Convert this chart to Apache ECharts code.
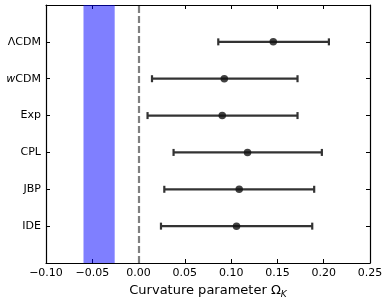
<!DOCTYPE html>
<html><head><meta charset="utf-8">
<script src="https://cdn.jsdelivr.net/npm/echarts@6/dist/echarts.min.js"></script>
<style>html,body{margin:0;padding:0;background:#fff}#c{width:390px;height:300px}</style>
</head><body><div id="c"></div>
<script>
const models = ['ΛCDM', 'wCDM', 'Exp', 'CPL', 'JBP', 'IDE'];
const centers = [0.1455, 0.0926, 0.0904, 0.1177, 0.1087, 0.1058];
const lower = [0.0861, 0.0145, 0.0097, 0.0378, 0.0278, 0.0242];
const upper = [0.2056, 0.1717, 0.1717, 0.1980, 0.1897, 0.1876];
const band = [-0.0595, -0.0258];
const refLine = 0;
const xTicks = [-0.10, -0.05, 0.00, 0.05, 0.10, 0.15, 0.20, 0.25];

const n = models.length;
const rowY = models.map((m, i) => n - i);
const font = 'DejaVu Sans';
const fmtX = v => (v < 0 ? '\u2212' : '') + Math.abs(v).toFixed(2);
const labelMap = {};
models.forEach((m, i) => { labelMap[rowY[i]] = m === 'wCDM' ? '{i|w}CDM' : m; });

const chart = echarts.init(document.getElementById('c'), null, {renderer: 'canvas'});
const axisLine = {show: true, onZero: false, lineStyle: {color: '#000', width: 1.2}};
const tick = {show: true, inside: true, length: 4, lineStyle: {color: '#000', width: 1}};
chart.setOption({
  animation: false,
  grid: {left: 46, right: 20, top: 5, bottom: 37, containLabel: false, outerBoundsMode: 'none'},
  xAxis: [{
    type: 'value', min: xTicks[0], max: xTicks[xTicks.length - 1], interval: 0.05,
    axisLine, axisTick: tick, splitLine: {show: false},
    axisLabel: {formatter: fmtX, fontFamily: font, fontSize: 11, color: '#000', margin: 5},
    name: 'Curvature parameter \u03A9{sub|K}', nameLocation: 'middle', nameGap: 17,
    nameTextStyle: {fontFamily: font, fontSize: 13, color: '#000',
      rich: {sub: {fontFamily: font, fontSize: 9, fontStyle: 'italic', color: '#000', padding: [8, 0, 0, 0]}}}
  }, {
    type: 'value', position: 'top', min: xTicks[0], max: xTicks[xTicks.length - 1], interval: 0.05,
    axisLine, axisTick: tick, axisLabel: {show: false}, splitLine: {show: false}
  }],
  yAxis: [{
    type: 'value', min: 0, max: n + 1, interval: 1,
    axisLine, axisTick: tick, splitLine: {show: false},
    axisLabel: {formatter: v => labelMap[v] || '', fontFamily: font, fontSize: 11, color: '#000', margin: 5,
      rich: {i: {fontFamily: font, fontSize: 11, fontStyle: 'italic', color: '#000'}}}
  }, {
    type: 'value', position: 'right', min: 0, max: n + 1, interval: 1,
    axisLine, axisTick: tick, axisLabel: {show: false}, splitLine: {show: false}
  }],
  series: [{
    type: 'line', data: [], silent: true,
    markArea: {silent: true, itemStyle: {color: 'rgba(0,0,255,0.5)'},
      data: [[{xAxis: band[0]}, {xAxis: band[1]}]]},
    markLine: {silent: true, symbol: 'none', label: {show: false},
      lineStyle: {color: '#7f7f7f', width: 2.2, type: [7, 3]},
      data: [{xAxis: refLine}]}
  }, {
    type: 'custom',
    data: models.map((m, i) => [lower[i], upper[i], rowY[i]]),
    renderItem: (params, api) => {
      const y = api.value(2);
      const a = api.coord([api.value(0), y]);
      const b = api.coord([api.value(1), y]);
      const s = {stroke: '#333', lineWidth: 2.2};
      const h = 3.5;
      return {type: 'group', children: [
        {type: 'line', shape: {x1: a[0], y1: a[1], x2: b[0], y2: b[1]}, style: s},
        {type: 'line', shape: {x1: a[0], y1: a[1] - h, x2: a[0], y2: a[1] + h}, style: s},
        {type: 'line', shape: {x1: b[0], y1: b[1] - h, x2: b[0], y2: b[1] + h}, style: s}
      ]};
    }
  }, {
    type: 'scatter', symbolSize: 7.5,
    itemStyle: {color: '#111'},
    data: models.map((m, i) => [centers[i], rowY[i]]),
    z: 5
  }]
});
</script></body></html>
